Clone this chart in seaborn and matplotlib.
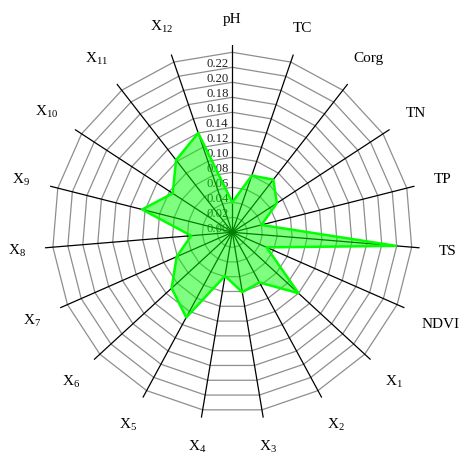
import numpy as np
import matplotlib
matplotlib.use("Agg")
import matplotlib.pyplot as plt
import seaborn as sns

# Indicator names around the radar (clockwise from the top)
categories = ["pH", "TC", "Corg", "TN", "TP", "TS", "NDVI",
              "X1", "X2", "X3", "X4", "X5", "X6",
              "X7", "X8", "X9", "X10", "X11", "X12"]
# Weight of each indicator
weights = [0.040, 0.080, 0.089, 0.071, 0.040, 0.219, 0.050,
           0.120, 0.076, 0.081, 0.059, 0.129, 0.110,
           0.081, 0.055, 0.124, 0.095, 0.122, 0.140]
# Radial tick values printed along the pH spoke
tick_values = [0.00, 0.02, 0.04, 0.06, 0.08, 0.10, 0.12,
               0.14, 0.16, 0.18, 0.20, 0.22]
ring_values = [0.02, 0.04, 0.06, 0.08, 0.10, 0.12,
               0.14, 0.16, 0.18, 0.20, 0.22, 0.24]
spoke_length = 0.25

sns.set_theme(style="white")
plt.rcParams["font.family"] = ["Liberation Serif", "DejaVu Serif"]
plt.rcParams["mathtext.fontset"] = "custom"
plt.rcParams["mathtext.rm"] = "Liberation Serif"
plt.rcParams["mathtext.it"] = "Liberation Serif:italic"

W, H, DPI = 463, 456, 100
fig = plt.figure(figsize=(W / DPI, H / DPI), dpi=DPI)
fig.patch.set_facecolor("white")

cx, cy = 232.3, H - 233.3     # centre of the radar in pixels
half = 225.0                  # pixels from centre to rmax
rmax = 0.30
ax = fig.add_axes([(cx - half) / W, (cy - half) / H, 2 * half / W, 2 * half / H],
                  projection="polar")
ax.set_theta_zero_location("N")
ax.set_theta_direction(-1)
ax.set_ylim(0, rmax)
ax.grid(False)
ax.set_xticks([])
ax.set_yticks([])
ax.spines["polar"].set_visible(False)
ax.patch.set_visible(False)

n = len(categories)
theta = np.arange(n) * 2 * np.pi / n
theta_closed = np.append(theta, theta[0])

# polygonal rings
for v in ring_values:
    ax.plot(theta_closed, [v] * (n + 1), color="#8e8e8e", lw=0.9, zorder=1)

# spokes
for t in theta:
    ax.plot([t, t], [0, spoke_length], color="black", lw=0.9, zorder=2)

# radial tick labels beside the pH spoke
for v in tick_values:
    ax.annotate(f"{v:.2f}", xy=(0, v), xytext=(-2.7, 0.9),
                textcoords="offset points", ha="right", va="baseline",
                fontsize=9.2, color="#222222", zorder=3)

# weights polygon
vals_closed = np.append(weights, weights[0])
ax.fill(theta_closed, vals_closed, color="#00ff00", alpha=0.5, lw=0, zorder=4)
sns.lineplot(x=theta_closed, y=vals_closed, sort=False, estimator=None,
             color="#00ff00", lw=1.8, ax=ax, zorder=5)
ax.set_xlabel("")
ax.set_ylabel("")


def label_text(name):
    if name.startswith("X"):
        return r"$\mathrm{X}_{" + name[1:] + "}$"
    return name


# category labels: each box is pushed outward until its nearest point
# sits at a fixed distance from the centre
renderer = fig.canvas.get_renderer()
px_per_unit = half / rmax
gap_px = 0.276 * px_per_unit
for t, name in zip(theta, categories):
    txt = ax.text(t, 0.28, label_text(name), ha="center", va="center",
                  fontsize=11, color="black", zorder=6)
    bb = txt.get_window_extent(renderer)
    a, b = bb.width / 2, bb.height / 2
    phi = np.pi / 2 - t
    ux, uy = np.cos(phi), np.sin(phi)
    lo, hi = 0.0, 400.0
    for _ in range(60):
        d = (lo + hi) / 2
        dx, dy = d * ux, d * uy
        px = np.clip(0, dx - a, dx + a)
        py = np.clip(0, dy - b, dy + b)
        if np.hypot(px, py) < gap_px:
            lo = d
        else:
            hi = d
    txt.set_position((t, hi / px_per_unit))

fig.savefig("out.png", dpi=DPI, facecolor="white")
